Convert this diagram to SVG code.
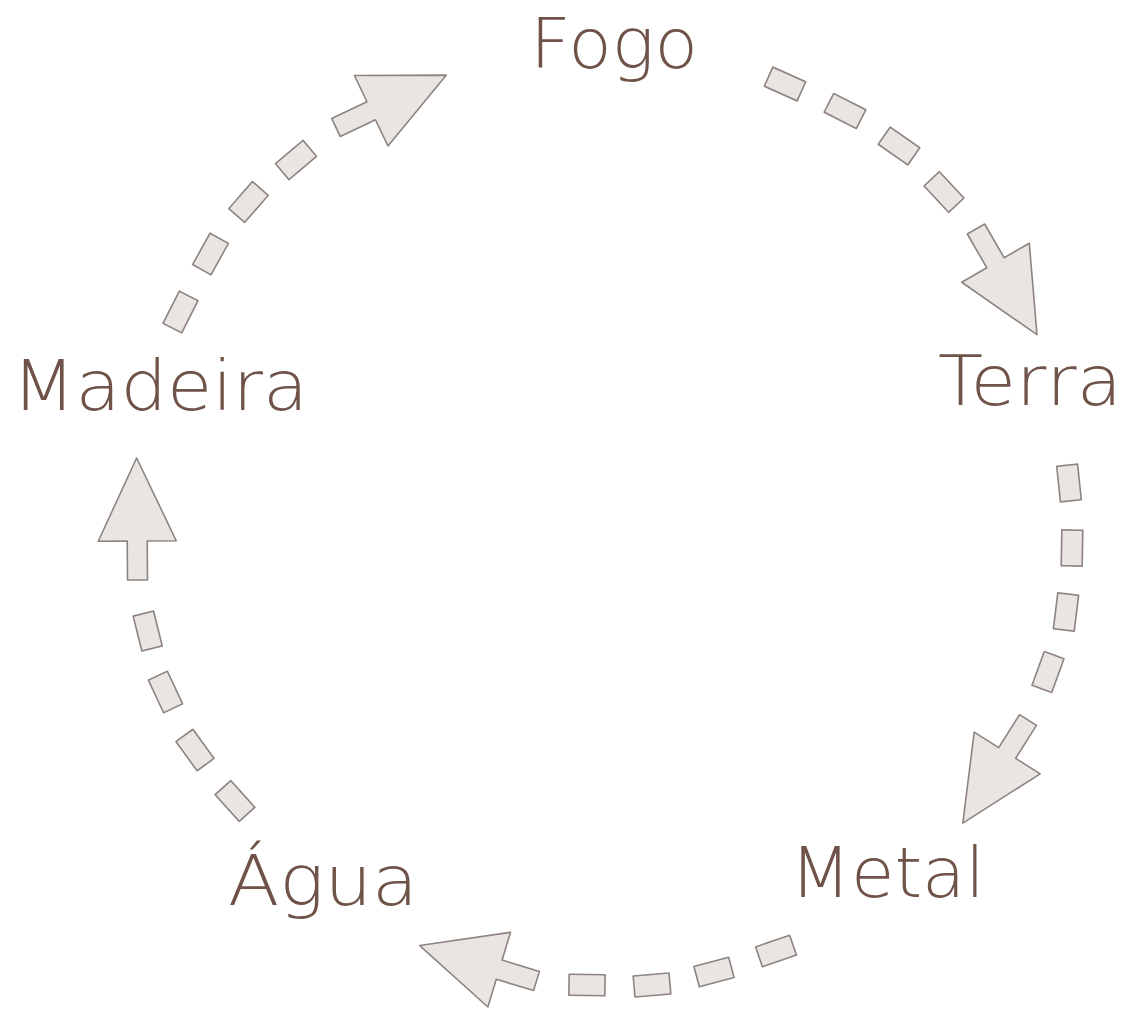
<svg xmlns="http://www.w3.org/2000/svg" xmlns:xlink="http://www.w3.org/1999/xlink" width="1131" height="1009" viewBox="0 0 1131 1009">
<style>
.lbl{font-family:"DejaVu Sans","Liberation Sans",sans-serif;font-weight:200;font-size:70px;fill:#6f5248;}
.shape{fill:#e9e5e2;stroke:#8d8480;stroke-width:1.6;stroke-linejoin:round;}
</style>
<defs>
<path id="arrow" class="shape" d="M0,-10 H39 V-39 L122,0 L39,39 V10 H0 Z"/>
<rect id="dash" class="shape" x="-18" y="-10.5" width="36" height="21"/>
</defs>
<rect width="1131" height="1009" fill="#ffffff"/>
<g id="connectors">
<g id="fogo-terra">
<use xlink:href="#dash" transform="translate(785,84) rotate(24)"/>
<use xlink:href="#dash" transform="translate(845,111) rotate(27)"/>
<use xlink:href="#dash" transform="translate(899,146) rotate(35)"/>
<use xlink:href="#dash" transform="translate(944,192) rotate(47)"/>
<use xlink:href="#arrow" transform="translate(976,229) rotate(60)"/>
</g>
<g id="terra-metal">
<use xlink:href="#dash" transform="translate(1069,483) rotate(84)"/>
<use xlink:href="#dash" transform="translate(1072,548) rotate(91)"/>
<use xlink:href="#dash" transform="translate(1066,612) rotate(97)"/>
<use xlink:href="#dash" transform="translate(1048,672) rotate(110)"/>
<use xlink:href="#arrow" transform="translate(1028,720) rotate(122.3)"/>
</g>
<g id="metal-agua">
<use xlink:href="#dash" transform="translate(776,951) rotate(-19)"/>
<use xlink:href="#dash" transform="translate(714,972) rotate(-15)"/>
<use xlink:href="#dash" transform="translate(652,985) rotate(-5)"/>
<use xlink:href="#dash" transform="translate(587,985) rotate(1)"/>
<use xlink:href="#arrow" transform="translate(536.5,981) rotate(-163.1)"/>
</g>
<g id="agua-madeira">
<use xlink:href="#dash" transform="translate(235,801) rotate(48)"/>
<use xlink:href="#dash" transform="translate(195,750) rotate(54)"/>
<use xlink:href="#dash" transform="translate(165.5,692) rotate(65)"/>
<use xlink:href="#dash" transform="translate(147.7,631) rotate(76)"/>
<use xlink:href="#arrow" transform="translate(137.5,580) rotate(-90.4)"/>
</g>
<g id="madeira-fogo">
<use xlink:href="#dash" transform="translate(180.5,312) rotate(-63)"/>
<use xlink:href="#dash" transform="translate(210.5,254) rotate(-61)"/>
<use xlink:href="#dash" transform="translate(248.5,202) rotate(-49)"/>
<use xlink:href="#dash" transform="translate(296,160) rotate(-40)"/>
<use xlink:href="#arrow" transform="translate(336,127.5) rotate(-25.4)"/>
</g>
</g>
<g id="node-fogo"><text class="lbl" x="530" y="68" textLength="168" lengthAdjust="spacingAndGlyphs">Fogo</text></g>
<g id="node-terra"><text class="lbl" x="938" y="405" textLength="184" lengthAdjust="spacingAndGlyphs">Terra</text></g>
<g id="node-metal"><text class="lbl" x="790" y="897" textLength="195" lengthAdjust="spacingAndGlyphs">Metal</text></g>
<g id="node-agua"><text class="lbl" x="228" y="905" textLength="190" lengthAdjust="spacingAndGlyphs">Água</text></g>
<g id="node-madeira"><text class="lbl" x="12" y="410" textLength="296" lengthAdjust="spacingAndGlyphs">Madeira</text></g>
</svg>
